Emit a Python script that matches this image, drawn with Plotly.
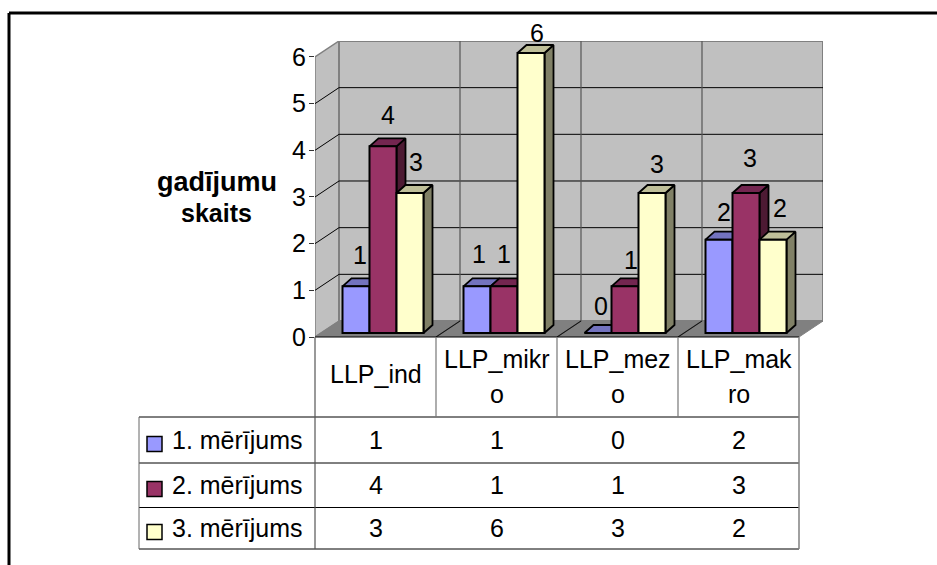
import plotly.graph_objects as go

categories = ["LLP_ind", "LLP_mikro", "LLP_mezo", "LLP_makro"]
category_lines = [["LLP_ind"], ["LLP_mikr", "o"], ["LLP_mez", "o"], ["LLP_mak", "ro"]]
series_names = ["1. mērījums", "2. mērījums", "3. mērījums"]
series_1 = [1, 1, 0, 2]
series_2 = [4, 1, 1, 3]
series_3 = [3, 6, 3, 2]
y_ticks = [0, 1, 2, 3, 4, 5, 6]
axis_title = ["gadījumu", "skaits"]

series_values = [series_1, series_2, series_3]
front_colors = ["#9999ff", "#993366", "#ffffcc"]
top_colors = ["#7373bf", "#732650", "#bfbf99"]
side_colors = ["#4d4d80", "#4d1a33", "#808066"]

W, H = 937, 565
CAT_PX, VAL_PX = 121.0, 46.67
LEFT, ZERO, TOP, RIGHT = 315, 337, 41, 823
X_RANGE = [0, (RIGHT - LEFT) / CAT_PX]
Y_RANGE = [0, (ZERO - TOP) / VAL_PX]
DX, DY = 24 / CAT_PX, 16 / VAL_PX        # wall depth
BDX, BDY = 9 / CAT_PX, 8 / VAL_PX        # bar depth
BASE = 4 / VAL_PX                        # bars stand slightly behind the front edge
BAR_W = 27 / CAT_PX
GROUP_C = 68 / CAT_PX
N = len(categories)
YMAX = max(y_ticks)
TEXT_SIZE = 25

# pixel nudges of the value labels relative to (bar centre, bar top)
label_shift = [
    [(4, 31), (5, 31), (6, 31), ],
    [(2, 32), (0, 32), (6, 20)],
    [(3, 27), (6, 26), (5, 29)],
    [(5, 28), (4, 35), (7, 32)],
]

fig = go.Figure()
FONT = "Liberation Sans, Arial, sans-serif"


def poly(xs, ys, fill, line="#000000", lw=0.0):
    fig.add_trace(go.Scatter(
        x=xs + xs[:1], y=ys + ys[:1], mode="lines", fill="toself", fillcolor=fill,
        line=dict(color=line, width=lw), hoverinfo="skip", showlegend=False,
        cliponaxis=False))


def seg(xs, ys, color, lw=1.0):
    fig.add_trace(go.Scatter(
        x=xs, y=ys, mode="lines", line=dict(color=color, width=lw),
        hoverinfo="skip", showlegend=False, cliponaxis=False))


# walls and floor
poly([0, DX, DX, 0], [0, DY, YMAX + DY, YMAX], "#c0c0c0", "#808080", 1.5)
poly([DX, N + DX, N + DX, DX], [DY, DY, YMAX + DY, YMAX + DY], "#c0c0c0", "#808080", 2)
poly([0, N, N + DX, DX], [0, 0, DY, DY], "#808080", "#808080", 1)
for t in y_ticks[1:-1]:
    seg([0, DX, N + DX], [t, t + DY, t + DY], "#000000", 1)
for i in range(1, N):
    seg([i, i + DX, i + DX], [0, DY, YMAX + DY], "#555555", 1.2)
    seg([i, i + DX], [0, DY], "#111111", 1)

# depth faces of the bars
for i in range(N):
    for j in range(3):
        v = series_values[j][i]
        x0 = i + GROUP_C + (j - 1.5) * BAR_W
        x1 = x0 + BAR_W
        top = BASE + v
        if v > 0:
            poly([x1, x1 + BDX, x1 + BDX, x1], [BASE, BASE + BDY, top + BDY, top],
                 side_colors[j], "#000000", 1.8)
        poly([x0, x1, x1 + BDX, x0 + BDX], [top, top, top + BDY, top + BDY],
             top_colors[j], "#000000", 1.8)

# front faces of the bars, on an overlay so they hide neighbouring depth faces
for j in range(3):
    fig.add_trace(go.Bar(
        x=[i + GROUP_C + (j - 1) * BAR_W for i in range(N)],
        y=series_values[j], base=BASE, width=BAR_W, name=series_names[j],
        marker=dict(color=front_colors[j], line=dict(color="#000000", width=2)),
        xaxis="x2", yaxis="y2", showlegend=False, cliponaxis=False))


def px(x):
    return x / W


def py(y):
    return 1 - y / H


shapes = []


def line(x0, y0, x1, y1, color="#000000", lw=1.0):
    shapes.append(dict(type="line", xref="paper", yref="paper",
                       x0=px(x0), y0=py(y0), x1=px(x1), y1=py(y1),
                       line=dict(color=color, width=lw)))


annotations = []


def text(x, y, s, size=TEXT_SIZE, bold=False, xref="paper", yref="paper", xshift=0, yshift=0):
    annotations.append(dict(
        x=x, y=y, xref=xref, yref=yref, text=s, showarrow=False,
        xanchor="center", yanchor="middle", xshift=xshift, yshift=yshift,
        font=dict(family=FONT, size=size, color="#000000",
                  weight="bold" if bold else "normal")))


# outer frame (only left and top edges are in view)
line(9, 13, W, 13, "#000000", 3)
line(9, 13, 9, H, "#000000", 3)

# data table
ROW_Y = [417, 463, 507.5, 549]
TABLE_R = LEFT + N * CAT_PX
line(LEFT, ZERO, TABLE_R, ZERO, "#000000", 1.2)
for y in ROW_Y:
    line(139, y, TABLE_R, y, "#000000", 1)
line(139, ROW_Y[0], 139, ROW_Y[-1], "#666666", 1)
line(LEFT, 337, LEFT, ROW_Y[-1], "#555555", 1.2)
line(TABLE_R, 337, TABLE_R, ROW_Y[-1], "#808080", 1.5)
for i in range(1, N):
    line(LEFT + i * CAT_PX, 337, LEFT + i * CAT_PX, ROW_Y[0], "#777777", 1.2)

LINE_Y = {1: [374], 2: [358.5, 393.5]}
for i, parts in enumerate(category_lines):
    cx = LEFT + (i + 0.5) * CAT_PX
    for part, y in zip(parts, LINE_Y[len(parts)]):
        text(px(cx), py(y), part)

ROW_C = [440, 485, 528]
for j in range(3):
    for i in range(N):
        text(px(LEFT + (i + 0.5) * CAT_PX), py(ROW_C[j]), str(series_values[j][i]))
    text(px(237), py(ROW_C[j]), series_names[j])
    shapes.append(dict(type="rect", xref="paper", yref="paper",
                       x0=px(147), x1=px(162), y0=py(ROW_C[j] + 4 + 7.5), y1=py(ROW_C[j] + 4 - 7.5),
                       fillcolor=front_colors[j], line=dict(color="#000000", width=1.5)))

# axis title
text(px(216.5), py(182), axis_title[0], size=27, bold=True)
text(px(216), py(213), axis_title[1], size=25, bold=True)

# value labels above the bars
for i in range(N):
    for j in range(3):
        v = series_values[j][i]
        sx, sy = label_shift[i][j]
        text(i + GROUP_C + (j - 1) * BAR_W, BASE + v, str(v),
             xref="x2", yref="y2", xshift=sx, yshift=sy)

dom_x = [LEFT / W, RIGHT / W]
dom_y = [1 - ZERO / H, 1 - TOP / H]
fig.update_layout(
    width=W, height=H, margin=dict(l=0, r=0, t=0, b=0, autoexpand=False),
    paper_bgcolor="#ffffff", plot_bgcolor="rgba(0,0,0,0)",
    font=dict(family=FONT, color="#000000"), showlegend=False, barmode="overlay",
    xaxis=dict(domain=dom_x, range=X_RANGE, visible=False, fixedrange=True),
    yaxis=dict(domain=dom_y, range=Y_RANGE, tickvals=y_ticks, ticks="outside", ticklen=5,
               tickwidth=1, tickcolor="#333333", tickfont=dict(size=TEXT_SIZE, family=FONT, color="#000000"),
               showgrid=False, zeroline=False, showline=False, fixedrange=True, ticklabelstandoff=-2),
    xaxis2=dict(domain=dom_x, range=X_RANGE, visible=False, overlaying="x", anchor="y2", fixedrange=True),
    yaxis2=dict(domain=dom_y, range=Y_RANGE, visible=False, overlaying="y", anchor="x2", fixedrange=True),
    shapes=shapes, annotations=annotations,
)
fig.write_html("out.html", config=dict(displayModeBar=False),
               post_script="document.body.style.margin='0';document.documentElement.style.overflow='hidden';")
